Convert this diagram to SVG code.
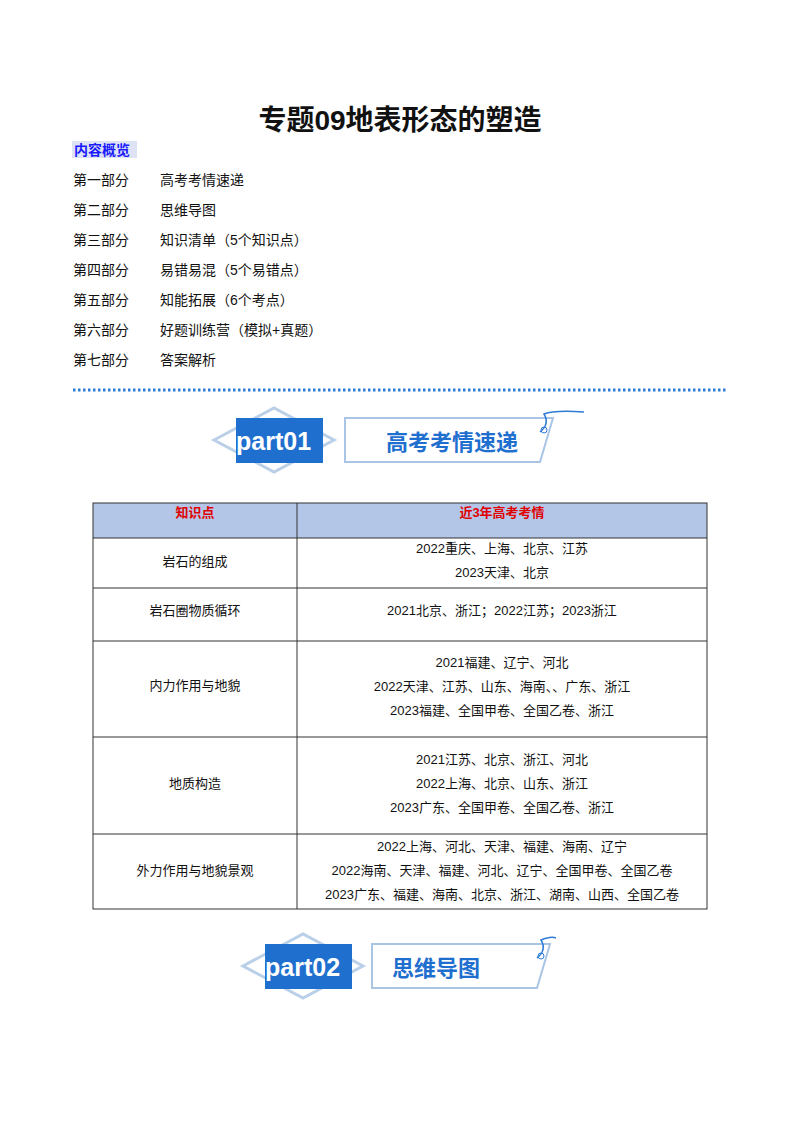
<svg xmlns="http://www.w3.org/2000/svg" width="800" height="1132" viewBox="0 0 800 1132">
<style>
text{font-family:"Liberation Sans","Noto Sans CJK SC",sans-serif;fill:#111}
.t{font-size:14px}
.c{font-size:13px;text-anchor:middle}
.g{fill:none;stroke:#333;stroke-width:1}
.pt{font-size:25px;font-weight:bold;fill:#fff}
.bt{font-size:22px;font-weight:bold;fill:#1f6fcf;text-anchor:middle}
</style>
<rect width="800" height="1132" fill="#fff"/>
<text x="400" y="130" style="font-size:28px;font-weight:bold" text-anchor="middle">专题09地表形态的塑造</text>
<rect x="72" y="141" width="65" height="17" fill="#dde3f5"/>
<text x="74" y="155" style="font-size:14px;font-weight:bold;fill:#1a1aff">内容概览</text>
<g class="t">
<text class="t" x="73" y="185">第一部分</text><text class="t" x="160" y="185">高考考情速递</text>
<text class="t" x="73" y="215">第二部分</text><text class="t" x="160" y="215">思维导图</text>
<text class="t" x="73" y="245">第三部分</text><text class="t" x="160" y="245">知识清单（5个知识点）</text>
<text class="t" x="73" y="275">第四部分</text><text class="t" x="160" y="275">易错易混（5个易错点）</text>
<text class="t" x="73" y="305">第五部分</text><text class="t" x="160" y="305">知能拓展（6个考点）</text>
<text class="t" x="73" y="335">第六部分</text><text class="t" x="160" y="335">好题训练营（模拟+真题）</text>
<text class="t" x="73" y="365">第七部分</text><text class="t" x="160" y="365">答案解析</text>
</g>
<line x1="73" y1="390" x2="728" y2="390" stroke="#2f7bd6" stroke-width="3" stroke-dasharray="2.5 2.5"/>
<g id="banner1">
<polygon points="214,440 274,408 334,440 274,472" fill="none" stroke="#b9d0e8" stroke-width="3"/>
<rect x="236" y="418" width="87" height="45" fill="#1f6fcf"/>
<text class="pt" x="236" y="450">part01</text>
<polygon points="345,418 553,418 540,462 345,462" fill="#fff" stroke="#a9c4e4" stroke-width="2"/>
<text class="bt" x="452" y="450">高考考情速递</text>
<path d="M540,432 q10,-8 4,-18 q10,-4 40,-2" fill="none" stroke="#2f7bd6" stroke-width="1.5"/>
<circle cx="544" cy="430" r="3" fill="none" stroke="#2f7bd6"/>
</g>
<g id="table">
<rect x="93" y="503" width="614" height="35" fill="#b4c6e7"/>
<rect class="g" x="93" y="503" width="614" height="406"/>
<line class="g" x1="297" y1="503" x2="297" y2="909"/>
<line class="g" x1="93" y1="538" x2="707" y2="538"/>
<line class="g" x1="93" y1="588" x2="707" y2="588"/>
<line class="g" x1="93" y1="641" x2="707" y2="641"/>
<line class="g" x1="93" y1="737" x2="707" y2="737"/>
<line class="g" x1="93" y1="834" x2="707" y2="834"/>
<text class="c" x="195" y="517" style="fill:#e00000;font-weight:bold">知识点</text>
<text class="c" x="502" y="517" style="fill:#e00000;font-weight:bold">近3年高考考情</text>
<text class="c" x="195" y="566">岩石的组成</text>
<text class="c" x="502" y="553">2022重庆、上海、北京、江苏</text>
<text class="c" x="502" y="577">2023天津、北京</text>
<text class="c" x="195" y="615">岩石圈物质循环</text>
<text class="c" x="502" y="615">2021北京、浙江；2022江苏；2023浙江</text>
<text class="c" x="195" y="690">内力作用与地貌</text>
<text class="c" x="502" y="667">2021福建、辽宁、河北</text>
<text class="c" x="502" y="691">2022天津、江苏、山东、海南、、广东、浙江</text>
<text class="c" x="502" y="715">2023福建、全国甲卷、全国乙卷、浙江</text>
<text class="c" x="195" y="788">地质构造</text>
<text class="c" x="502" y="764">2021江苏、北京、浙江、河北</text>
<text class="c" x="502" y="788">2022上海、北京、山东、浙江</text>
<text class="c" x="502" y="812">2023广东、全国甲卷、全国乙卷、浙江</text>
<text class="c" x="195" y="875">外力作用与地貌景观</text>
<text class="c" x="502" y="851">2022上海、河北、天津、福建、海南、辽宁</text>
<text class="c" x="502" y="875">2022海南、天津、福建、河北、辽宁、全国甲卷、全国乙卷</text>
<text class="c" x="502" y="899">2023广东、福建、海南、北京、浙江、湖南、山西、全国乙卷</text>
</g>
<g id="banner2">
<polygon points="243,966 303,934 363,966 303,998" fill="none" stroke="#b9d0e8" stroke-width="3"/>
<rect x="265" y="944" width="87" height="45" fill="#1f6fcf"/>
<text class="pt" x="265" y="976">part02</text>
<polygon points="372,944 550,944 537,988 372,988" fill="#fff" stroke="#a9c4e4" stroke-width="2"/>
<text class="bt" x="436" y="976">思维导图</text>
<path d="M537,958 q10,-8 4,-18 q10,-4 15,-2" fill="none" stroke="#2f7bd6" stroke-width="1.5"/>
<circle cx="541" cy="956" r="3" fill="none" stroke="#2f7bd6"/>
</g>
</svg>
